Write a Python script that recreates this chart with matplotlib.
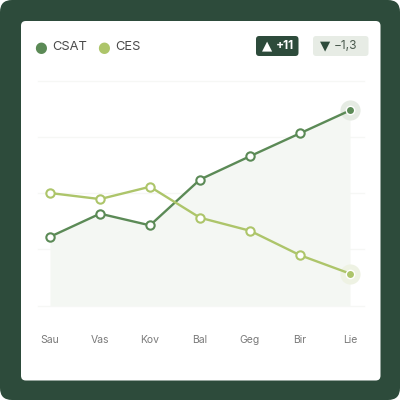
import matplotlib
matplotlib.use("Agg")
import matplotlib.pyplot as plt
from matplotlib.patches import FancyBboxPatch
import numpy as np

months = ["Sau", "Vas", "Kov", "Bal", "Geg", "Bir", "Lie"]
csat = [30.6, 40.9, 35.7, 56.1, 66.5, 76.7, 86.9]
ces = [50.1, 47.4, 52.9, 39.1, 33.3, 22.4, 14.2]
grid_vals = [0, 25, 50, 75, 100]
legend_labels = ["CSAT", "CES"]
badge_up = "+11"
badge_down = "\u22121,3"

C_DARK = "#2d4b3b"
C_CSAT = "#5b8a56"
C_CES = "#adc56a"
C_FILL = "#f4f7f3"
C_GRID = "#f6f7f5"

plt.rcParams['font.family'] = ['Inter', 'DejaVu Sans']

fig = plt.figure(figsize=(4, 4), dpi=100)
fig.patch.set_facecolor("white")
W = 400.0

def fx(px):
    return px / W

def fy(py):
    return 1 - py / W

outer = FancyBboxPatch((0, 0), 1, 1, boxstyle="round,pad=0,rounding_size=0.03",
                       transform=fig.transFigure, facecolor=C_DARK, edgecolor="none", zorder=0)
fig.patches.append(outer)
card = FancyBboxPatch((fx(21), fy(380.5)), fx(380.5 - 21), fx(380.5 - 21),
                      boxstyle="round,pad=0,rounding_size=0.012",
                      transform=fig.transFigure, facecolor="white", edgecolor="none", zorder=1)
fig.patches.append(card)

ax = fig.add_axes([fx(38), fy(305.5), fx(364 - 38), fx(305.5 - 81)])
ax.set_facecolor("none")
ax.set_zorder(2)
x = np.arange(len(months))
ax.set_xlim((38 - 50) / 50, (364 - 50) / 50)
ax.set_ylim(grid_vals[0], grid_vals[-1])
for g in grid_vals:
    ax.axhline(g, color=C_GRID, lw=1.0, zorder=0, clip_on=False)

ax.fill_between(x, csat, grid_vals[0], color=C_FILL, lw=0, zorder=1)

ax.plot(x, csat, color=C_CSAT, lw=1.7, zorder=3, solid_capstyle="round")
ax.plot(x, ces, color=C_CES, lw=1.7, zorder=3, solid_capstyle="round")
ax.plot(x[:-1], csat[:-1], ls="none", marker="o", ms=6, mfc="white", mec=C_CSAT, mew=1.5, zorder=4)
ax.plot(x[:-1], ces[:-1], ls="none", marker="o", ms=6, mfc="white", mec=C_CES, mew=1.5, zorder=4)
# highlighted last points
ax.plot(x[-1], csat[-1], marker="o", ms=14.5, mfc="#e5ebe3", mec="none", zorder=2, clip_on=False)
ax.plot(x[-1], ces[-1], marker="o", ms=14.5, mfc="#eef2e3", mec="none", zorder=2, clip_on=False)
ax.plot(x[-1], csat[-1], marker="o", ms=6, mfc=C_CSAT, mec="white", mew=1.0, zorder=5, clip_on=False)
ax.plot(x[-1], ces[-1], marker="o", ms=6, mfc=C_CES, mec="white", mew=1.0, zorder=5, clip_on=False)

ax.set_xticks(x)
ax.set_xticklabels(months, fontsize=7.5, color="#7a7a7a")
ax.tick_params(axis="x", length=0, pad=21)
ax.set_yticks([])
for s in ax.spines.values():
    s.set_visible(False)

# legend
fig.text(fx(40.7), fy(47.3), "\u25CF", color=C_CSAT, fontsize=10.5, ha="center", va="center",
         family=['DejaVu Sans'])
fig.text(fx(52), fy(47.5), legend_labels[0], color="#4a4a4a", fontsize=9.3, ha="left", va="center")
fig.text(fx(103.3), fy(47.3), "\u25CF", color=C_CES, fontsize=10.5, ha="center", va="center",
         family=['DejaVu Sans'])
fig.text(fx(115.5), fy(47.5), legend_labels[1], color="#4a4a4a", fontsize=9.3, ha="left", va="center")

# badges
b1 = FancyBboxPatch((fx(256), fy(56)), fx(42.5), fx(20), boxstyle="round,pad=0,rounding_size=0.008",
                    transform=fig.transFigure, facecolor=C_DARK, edgecolor="none", zorder=3)
fig.patches.append(b1)
fig.text(fx(267), fy(46), "\u25B2", color="white", fontsize=9.5,
         ha="center", va="center", family=['DejaVu Sans'], zorder=4)
fig.text(fx(275.5), fy(46), badge_up, color="white", fontsize=8.6, fontweight="bold",
         ha="left", va="center", zorder=4)
b2 = FancyBboxPatch((fx(313), fy(56)), fx(55.5), fx(20), boxstyle="round,pad=0,rounding_size=0.008",
                    transform=fig.transFigure, facecolor="#e7ece5", edgecolor="none", zorder=3)
fig.patches.append(b2)
fig.text(fx(325.5), fy(46), "\u25BC", color=C_DARK, fontsize=9.5,
         ha="center", va="center", family=['DejaVu Sans'], zorder=4)
fig.text(fx(334), fy(46), badge_down, color="#4a5a4e", fontsize=8.6,
         ha="left", va="center", zorder=4)

fig.savefig("out.png", dpi=100, facecolor="white")
